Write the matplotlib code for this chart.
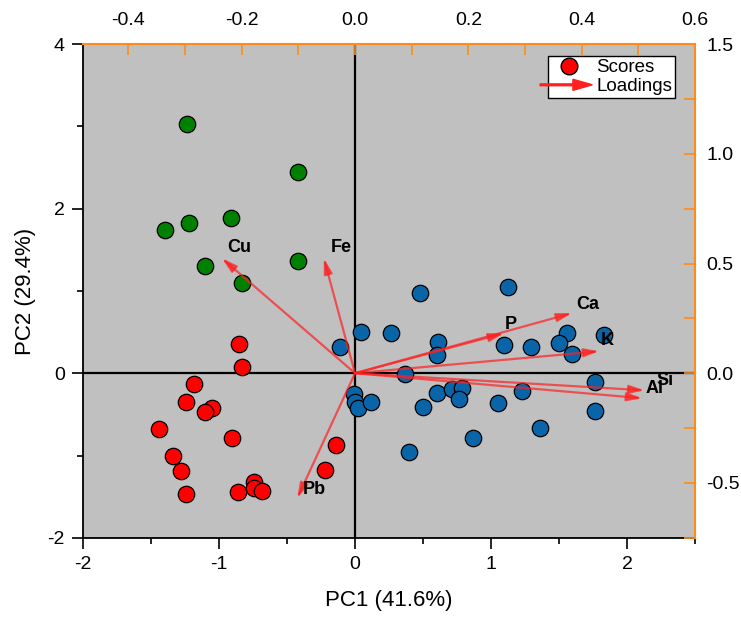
"""PCA biplot: scores (PC1/PC2) with element loadings on twin axes."""
import matplotlib
matplotlib.use("Agg")
import matplotlib.pyplot as plt
from matplotlib.legend_handler import HandlerPatch
from matplotlib.lines import Line2D
from matplotlib.patches import FancyArrow
from matplotlib.ticker import MultipleLocator

plt.rcParams["font.family"] = ["Liberation Sans", "DejaVu Sans"]
plt.rcParams["axes.unicode_minus"] = False

# scores, grouped by cluster colour
green_pc1 = [-1.235, -0.421, -1.22, -0.913, -1.397, -1.10, -0.416, -0.834]
green_pc2 = [3.03, 2.45, 1.82, 1.89, 1.74, 1.30, 1.36, 1.10]

red_pc1 = [-0.854, -0.829, -1.183, -1.24, -1.05, -1.10, -1.44, -0.908, -1.336,
           -1.279, -1.24, -0.861, -0.74, -0.74, -0.686, -0.14, -0.219]
red_pc2 = [0.353, 0.077, -0.126, -0.344, -0.425, -0.47, -0.673, -0.79, -1.005,
           -1.19, -1.47, -1.44, -1.32, -1.40, -1.43, -0.875, -1.18]

blue_pc1 = [0.046, 0.268, -0.113, 0.475, 1.127, 0.613, 0.605, 1.097, 1.294, 1.557,
            1.503, 1.596, 1.828, 0.371, 1.766, -0.010, -0.002, 0.022, 0.120, 0.605,
            0.716, 0.79, 0.765, 0.50, 1.048, 1.227, 1.762, 1.363, 0.869, 0.396]
blue_pc2 = [0.505, 0.492, 0.322, 0.976, 1.049, 0.377, 0.219, 0.347, 0.316, 0.492,
            0.365, 0.231, 0.466, -0.004, -0.106, -0.247, -0.349, -0.417, -0.349, -0.235,
            -0.186, -0.174, -0.308, -0.41, -0.361, -0.219, -0.462, -0.66, -0.787, -0.957]

# loadings
elements = ["Cu", "Fe", "Pb", "P", "Ca", "K", "Si", "Al"]
load_pc1 = [-0.235, -0.055, -0.102, 0.263, 0.383, 0.431, 0.511, 0.507]
load_pc2 = [0.524, 0.524, -0.570, 0.182, 0.274, 0.100, -0.078, -0.114]

ORANGE = "#FF8C1A"
ARROW = "#FF2020"

fig = plt.figure(figsize=(7.41, 6.21), dpi=100)
pos = [0.112, 0.134, 0.826, 0.795]
ax = fig.add_axes(pos)
ax.set_facecolor("#C0C0C0")

ax.axhline(0, color="black", lw=1.6, zorder=1)
ax.axvline(0, color="black", lw=1.6, zorder=1)

kw = dict(s=140, edgecolors="black", linewidths=0.9, zorder=3)
ax.scatter(green_pc1, green_pc2, c="#008000", **kw)
ax.scatter(red_pc1, red_pc2, c="#FF0000", **kw)
ax.scatter(blue_pc1, blue_pc2, c="#0A64A8", **kw)

ax.set_xlim(-2, 2.5)
ax.set_ylim(-2, 4)
ax.xaxis.set_major_locator(MultipleLocator(1))
ax.xaxis.set_minor_locator(MultipleLocator(0.5))
ax.yaxis.set_major_locator(MultipleLocator(2))
ax.yaxis.set_minor_locator(MultipleLocator(1))
ax.tick_params(which="both", direction="out", labelsize=14, width=1.2, pad=5)
ax.tick_params(which="major", length=8)
ax.tick_params(which="minor", length=4)
ax.set_xlabel("PC1 (41.6%)", fontsize=16, labelpad=12)
ax.set_ylabel("PC2 (29.4%)", fontsize=16, labelpad=8)
for side in ("top", "right"):
    ax.spines[side].set_visible(False)
for side in ("bottom", "left"):
    ax.spines[side].set_linewidth(1.3)

# loadings axes (top / right)
ax2 = fig.add_axes(pos, frameon=True)
ax2.patch.set_alpha(0)
ax2.set_xlim(-0.48, 0.6)
ax2.set_ylim(-0.75, 1.5)
ax2.xaxis.tick_top()
ax2.yaxis.tick_right()
ax2.xaxis.set_major_locator(MultipleLocator(0.2))
ax2.xaxis.set_minor_locator(MultipleLocator(0.1))
ax2.yaxis.set_major_locator(MultipleLocator(0.5))
ax2.yaxis.set_minor_locator(MultipleLocator(0.25))
ax2.tick_params(which="both", direction="in", labelsize=14, color=ORANGE,
                width=1.2, length=8)
ax2.tick_params(axis="x", pad=11)
ax2.tick_params(axis="y", pad=8)
ax2.spines["bottom"].set_visible(False)
ax2.spines["left"].set_visible(False)
for side in ("top", "right"):
    ax2.spines[side].set_color(ORANGE)
    ax2.spines[side].set_linewidth(1.5)

label_off = {
    "Cu": (0.03, 0.05), "Fe": (0.03, 0.05), "Pb": (0.03, 0.04), "P": (0.012, 0.04),
    "Ca": (0.028, 0.04), "K": (0.014, 0.05), "Si": (0.036, 0.045), "Al": (0.021, 0.045),
}
for name, lx, ly in zip(elements, load_pc1, load_pc2):
    ax2.annotate("", xy=(lx, ly), xytext=(0, 0),
                 arrowprops=dict(arrowstyle="-|>,head_length=0.9,head_width=0.25",
                                 color=ARROW, alpha=0.7, lw=1.6, shrinkA=0, shrinkB=0))
    dx, dy = label_off[name]
    ax2.text(lx + dx, ly + dy, name, fontsize=13, fontweight="bold",
             ha="center", va="center")


def make_arrow(legend, orig_handle, xdescent, ydescent, width, height, fontsize):
    return FancyArrow(-xdescent - 8, height / 2, width + 12, 0, width=1.3,
                      head_width=8, head_length=14, length_includes_head=True,
                      color=ARROW, alpha=0.7)


score_handle = Line2D([], [], marker="o", ls="", markersize=12,
                      markerfacecolor="#FF0000", markeredgecolor="black")
load_handle = FancyArrow(0, 0, 1, 0, color=ARROW)
ax2.legend([score_handle, load_handle], ["Scores", "Loadings"],
           handler_map={FancyArrow: HandlerPatch(patch_func=make_arrow)},
           loc="upper right", bbox_to_anchor=(0.967, 0.975), fontsize=13.5,
           frameon=True, fancybox=False, edgecolor="black", framealpha=1,
           borderpad=0.15, handletextpad=0.5, labelspacing=0.1, handlelength=1.9,
           borderaxespad=0)

fig.savefig("out.png", dpi=100)
